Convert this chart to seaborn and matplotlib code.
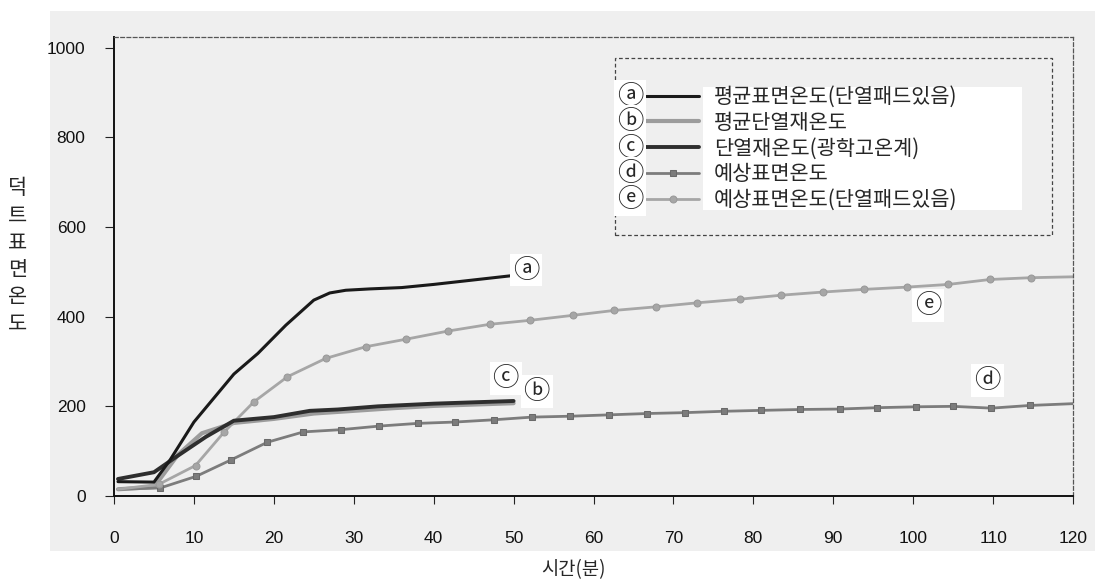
import matplotlib
matplotlib.use("Agg")
import matplotlib.pyplot as plt
import seaborn as sns
from matplotlib.patches import Rectangle

# ---- data ----
# ⓐ 평균표면온도(단열패드있음)
a_time = [0.5, 5, 7, 10, 15, 18, 21.5, 25, 27, 29, 32, 36, 40, 44, 50]
a_temp = [32, 31, 80, 165, 272, 318, 381, 437, 453, 459, 462, 465, 472, 480, 492]

# ⓑ 평균단열재온도
b_time = [0.5, 5, 8, 11, 15, 20, 25, 30, 35, 40, 45, 50]
b_temp = [15, 20, 92, 140, 163, 172, 184, 190, 196, 201, 204, 207]

# ⓒ 단열재온도(광학고온계)
c_time = [0.5, 5, 8, 11.5, 15, 20, 24.5, 28, 33, 40, 45, 50]
c_temp = [38, 53, 90, 132, 168, 176, 190, 193, 200, 206, 209, 212]

# ⓓ 예상표면온도
d_time = [0.5, 5.8, 10.3, 14.7, 19.2, 23.7, 28.4, 33.2, 38.0, 42.7, 47.5, 52.3, 57.1,
          61.9, 66.7, 71.5, 76.3, 80.9, 85.9, 90.8, 95.5, 100.4, 105.0, 109.8, 114.6, 120]
d_temp = [15, 18, 44, 81, 120, 143, 148, 156, 162, 165, 170, 176, 178,
          181, 184, 186, 189, 191, 193, 194, 197, 199, 200, 196, 202, 206]

# ⓔ 예상표면온도(단열패드있음)
e_time = [0.5, 5.6, 10.2, 13.8, 17.5, 21.7, 26.5, 31.5, 36.6, 41.8, 47.0, 52.1, 57.4,
          62.6, 67.8, 73.0, 78.3, 83.5, 88.7, 93.9, 99.2, 104.4, 109.6, 114.7, 120]
e_temp = [15, 26, 68, 143, 210, 266, 307, 333, 350, 368, 383, 392, 403,
          414, 422, 431, 439, 448, 455, 461, 466, 472, 483, 487, 489]

labels = ["평균표면온도(단열패드있음)", "평균단열재온도", "단열재온도(광학고온계)",
          "예상표면온도", "예상표면온도(단열패드있음)"]
marks = ["ⓐ", "ⓑ", "ⓒ", "ⓓ", "ⓔ"]
x_ticks = list(range(0, 121, 10))
y_ticks = list(range(0, 1001, 200))

# ---- style ----
sns.set_theme(style="ticks")
plt.rcParams["font.family"] = ["Liberation Sans", "Noto Sans CJK KR", "DejaVu Sans"]
kr = ["Noto Sans CJK KR", "DejaVu Sans"]

W, H = 1095, 585


def fx(px):
    return px / W


def fy(py):
    return 1 - py / H


fig = plt.figure(figsize=(10.95, 5.85), dpi=100)
# grey scanned-page background behind the whole chart
fig.patches.append(Rectangle((fx(50), fy(551)), fx(1095) - fx(50), fy(11) - fy(551),
                             transform=fig.transFigure, facecolor="#efefef",
                             edgecolor="none", zorder=-5))
ax = fig.add_axes([fx(114), fy(496), fx(1073) - fx(114), fy(37) - fy(496)])
ax.set_facecolor("#efefef")

# ---- lines ----
sns.lineplot(x=a_time, y=a_temp, ax=ax, color="#1a1a1a", lw=2.2, label=labels[0],
             legend=False, sort=False, estimator=None, zorder=4)
sns.lineplot(x=b_time, y=b_temp, ax=ax, color="#9c9c9c", lw=3.0, label=labels[1],
             legend=False, sort=False, estimator=None, zorder=2)
sns.lineplot(x=c_time, y=c_temp, ax=ax, color="#2e2e2e", lw=2.8, label=labels[2],
             legend=False, sort=False, estimator=None, zorder=3)
sns.lineplot(x=d_time, y=d_temp, ax=ax, color="#7c7c7c", lw=2.0, label=labels[3],
             legend=False, sort=False, estimator=None, zorder=2,
             marker="s", markersize=4.5, markeredgecolor="#6a6a6a",
             markevery=list(range(1, len(d_time) - 1)))
sns.lineplot(x=e_time, y=e_temp, ax=ax, color="#a6a6a6", lw=2.0, label=labels[4],
             legend=False, sort=False, estimator=None, zorder=2,
             marker="o", markersize=5, markeredgecolor="#999999",
             markevery=list(range(1, len(e_time) - 1)))

ax.set_xlim(0, 120)
ax.set_ylim(0, 1024)
ax.set_xticks(x_ticks)
ax.set_yticks(y_ticks)
ax.set_xlabel("")
ax.set_ylabel("")
ax.xaxis.set_tick_params(which="major", direction="out", length=6, width=0.8, pad=19,
                         labelsize=12.5, color="#222222", labelcolor="#111111")
ax.yaxis.set_tick_params(which="major", direction="out", length=6.5, width=0.8, pad=14,
                         labelsize=12.5, color="#222222", labelcolor="#111111")

for side in ["left", "bottom"]:
    ax.spines[side].set_color("#111111")
    ax.spines[side].set_linewidth(1.4)
for side in ["top", "right"]:
    ax.spines[side].set_visible(True)
    ax.spines[side].set_color("#555555")
    ax.spines[side].set_linewidth(0.9)
    ax.spines[side].set_linestyle((0, (3, 2)))

# ---- curve labels ----
lab_box = dict(facecolor="white", edgecolor="none", pad=2.0)
curve_marks = [("ⓐ", 51.6, 504), ("ⓒ", 49.0, 263), ("ⓑ", 52.9, 234),
               ("ⓔ", 101.9, 425), ("ⓓ", 109.3, 258)]
for m, t, v in curve_marks:
    ax.text(t, v, m, family=kr, fontsize=19, ha="center", va="center",
            bbox=lab_box, zorder=6)

# ---- legend ----
ax.add_patch(Rectangle((fx(615), fy(235)), fx(1052) - fx(615), fy(58) - fy(235),
                       transform=fig.transFigure, fill=False, edgecolor="#444444",
                       lw=0.9, ls=(0, (3, 2)), zorder=3, clip_on=False))
ax.add_patch(Rectangle((fx(703), fy(210)), fx(1022) - fx(703), fy(87) - fy(210),
                       transform=fig.transFigure, facecolor="white",
                       edgecolor="none", zorder=3, clip_on=False))
handles, hl = ax.get_legend_handles_labels()
leg = ax.legend(handles, hl, loc="upper left",
                bbox_to_anchor=(fx(646), fy(86)), bbox_transform=fig.transFigure,
                frameon=False, prop={"family": "Noto Sans CJK KR", "size": 15},
                handlelength=2.55, handletextpad=0.7, labelspacing=0.18,
                borderpad=0, borderaxespad=0)
leg.set_zorder(5)

row_y = [96.7, 121.7, 148.3, 173.3, 199.3]
for m, py in zip(marks, row_y):
    ax.text(fx(630), fy(py), m, transform=fig.transFigure, family=kr, fontsize=19,
            ha="center", va="center", bbox=lab_box, zorder=6)

# ---- axis titles ----
fig.text(fx(573), fy(570), "시간(분)", family=kr, fontsize=13.5, ha="center", va="center")
fig.text(fx(18), fy(256), "\n".join("덕트표면온도"), family=kr, fontsize=15,
         ha="center", va="center", linespacing=1.3)

fig.savefig("out.png", dpi=100)
